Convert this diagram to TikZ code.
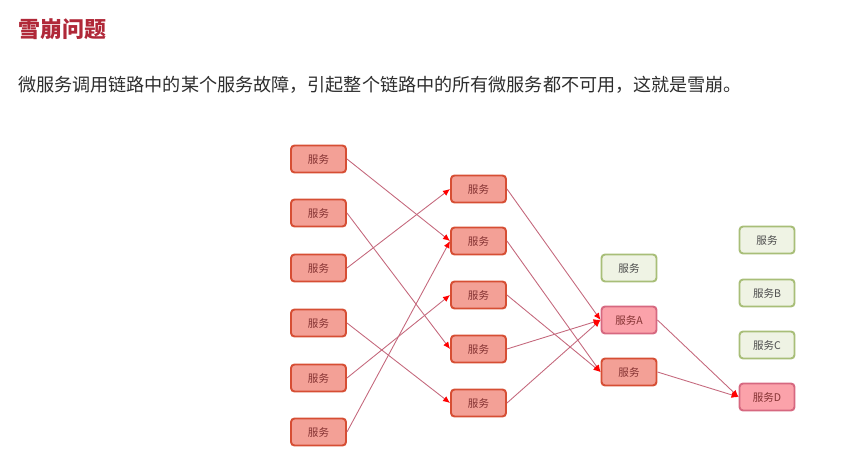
\documentclass[tikz,border=0pt]{standalone}
\usepackage{fontspec}
\newfontfamily\cjk{Noto Sans CJK SC}
\usetikzlibrary{arrows.meta}
\definecolor{titre}{RGB}{176,40,56}
\definecolor{corps}{RGB}{45,45,45}
\definecolor{rougebord}{RGB}{214,78,52}
\definecolor{rougefond}{RGB}{243,160,150}
\definecolor{roseborde}{RGB}{214,104,128}
\definecolor{rosefond}{RGB}{251,162,170}
\definecolor{vertbord}{RGB}{168,190,120}
\definecolor{vertfond}{RGB}{239,243,228}
\definecolor{lien}{RGB}{196,104,124}
\begin{document}
\begin{tikzpicture}[x=0.02cm, y=-0.02cm,
    svc/.style={draw=rougebord, fill=rougefond, line width=1.1pt, rounded corners=2pt,
        minimum width=1.1cm, minimum height=0.54cm, inner sep=0pt,
        font=\cjk\fontsize{6}{7}\selectfont, text=red!40!black!80},
    svcok/.style={svc, draw=vertbord, fill=vertfond, text=black!70},
    svcpanne/.style={svc, draw=roseborde, fill=rosefond},
    fleche/.style={draw=lien, line width=0.5pt, -{Latex[red, length=4pt, width=3.5pt]}}]
    \useasboundingbox (0,0) rectangle (859,466);

    \node[anchor=west, text=titre, font=\cjk\bfseries\fontsize{12.5}{14}\selectfont] (titre) at (12,29) {雪崩问题};
    \node[anchor=west, text=corps, font=\cjk\fontsize{10.3}{12}\selectfont] (texte) at (12,85)
        {微服务调用链路中的某个服务故障，引起整个链路中的所有微服务都不可用，这就是雪崩。};

    % Colonnes de services
    \foreach \y [count=\i] in {159, 213, 268, 323, 378, 432} { \node[svc] (a\i) at (318.5,\y) {服务}; }
    \foreach \y [count=\i] in {189, 241, 295, 349, 403} { \node[svc] (b\i) at (478.5,\y) {服务}; }

    \node[svcok] (c1) at (629,268) {服务};
    \node[svcpanne] (cA) at (629,320) {服务A};
    \node[svc] (c3) at (629,372) {服务};

    \node[svcok] (d1) at (767,240) {服务};
    \node[svcok] (dB) at (767,293) {服务B};
    \node[svcok] (dC) at (767,345) {服务C};
    \node[svcpanne] (dD) at (767,397) {服务D};

    % Appels
    \foreach \s/\t in {a1/b2, a2/b4, a3/b1, a4/b5, a5/b3, a6/b2,
                       b1/cA, b2/c3, b3/c3, b4/cA, b5/cA, cA/dD, c3/dD}
        { \draw[fleche] (\s.east) -- (\t.west); }
\end{tikzpicture}
\end{document}
